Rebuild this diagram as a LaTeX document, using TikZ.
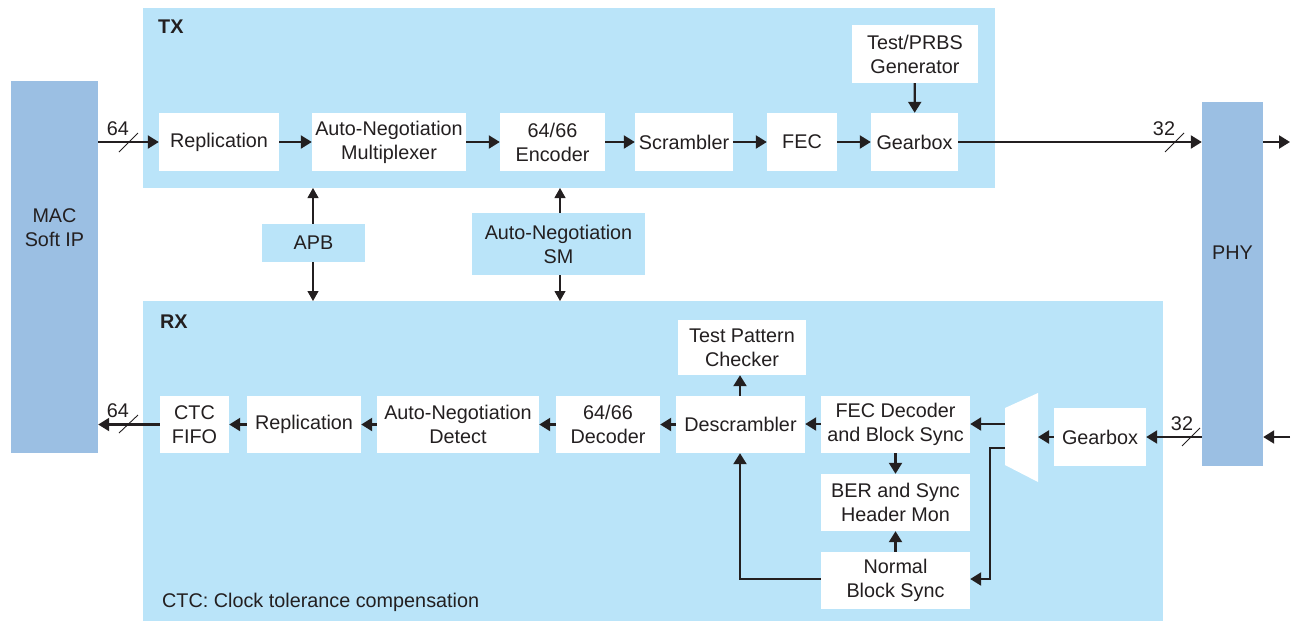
\documentclass[tikz,border=0pt]{standalone}
\usepackage{fontspec}
\setmainfont{Liberation Sans}
\usetikzlibrary{arrows.meta}
\definecolor{lb}{HTML}{BAE4F9}
\definecolor{mb}{HTML}{9BBFE3}
\definecolor{ink}{HTML}{231F20}
\begin{document}
\begin{tikzpicture}[x=1pt,y=-1pt,
  font=\fontsize{19.8}{24}\selectfont, text=ink,
  blk/.style={fill=white, align=center, inner sep=0pt},
  side/.style={fill=mb, align=center, inner sep=0pt},
  ctl/.style={fill=lb, align=center, inner sep=0pt},
  region/.style={fill=lb, draw=none},
  flow/.style={draw=ink, line width=2.2pt, -{Triangle[length=11pt,width=13pt]}},
  bus/.style={draw=ink, line width=1.1pt, -{Triangle[length=10pt,width=11pt]}},
  slash/.style={draw=ink, line width=0.9pt},
  lbl/.style={inner sep=0pt}]
\useasboundingbox (0,0) rectangle (1291,622);
% regions
\fill[region] (143,8) rectangle (995,188);
\fill[region] (143,301) rectangle (1163,621);
\node[lbl, font=\fontsize{19.8}{22}\selectfont\bfseries, anchor=west] (txl) at (158,27) {TX};
\node[lbl, font=\fontsize{19.8}{22}\selectfont\bfseries, anchor=west] (rxl) at (160,322) {RX};
% side blocks
\node[side, minimum width=87pt, minimum height=372pt] (mac) at (54.5,267) {};
\node[lbl, align=center] (mact) at (54.5,228) {MAC\\Soft IP};
\node[side, minimum width=61pt, minimum height=364pt] (phy) at (1232.5,284) {};
\node[lbl] (phyt) at (1232.5,253) {PHY};
% TX blocks
\node[blk, minimum width=120pt, minimum height=58pt] (txrep) at (219,142) {Replication};
\node[blk, minimum width=154pt, minimum height=58pt] (txanm) at (389,142) {Auto-Negotiation\\Multiplexer};
\node[blk, minimum width=105pt, minimum height=58pt] (txenc) at (552.5,142) {64/66\\Encoder};
\node[blk, minimum width=98pt, minimum height=58pt] (txscr) at (684,142) {Scrambler};
\node[blk, minimum width=70pt, minimum height=58pt] (txfec) at (802,142) {FEC};
\node[blk, minimum width=87pt, minimum height=58pt] (txgb) at (914.5,142) {Gearbox};
\node[blk, minimum width=126pt, minimum height=58pt] (prbs) at (915,54) {Test/PRBS\\Generator};
% control blocks
\node[ctl, minimum width=103pt, minimum height=38pt] (apb) at (313.5,243) {APB};
\node[ctl, minimum width=173pt, minimum height=62pt] (ansm) at (558.5,244) {Auto-Negotiation\\SM};
\coordinate (apbx) at (313,0);
\coordinate (ansx) at (560,0);
% RX blocks
\node[blk, minimum width=69pt, minimum height=57pt] (ctc) at (194.5,424.5) {CTC\\FIFO};
\node[blk, minimum width=114pt, minimum height=57pt] (rxrep) at (304,424.5) {Replication};
\node[blk, minimum width=162pt, minimum height=57pt] (andet) at (458,424.5) {Auto-Negotiation\\Detect};
\node[blk, minimum width=104pt, minimum height=57pt] (dec) at (608,424.5) {64/66\\Decoder};
\node[blk, minimum width=129pt, minimum height=57pt] (desc) at (740.5,424.5) {Descrambler};
\node[blk, minimum width=128pt, minimum height=55pt] (tpc) at (742,347.5) {Test Pattern\\Checker};
\node[blk, minimum width=149pt, minimum height=57pt] (fecd) at (895.5,424.5) {FEC Decoder\\and Block Sync};
\node[blk, minimum width=149pt, minimum height=57pt] (ber) at (895.5,502.5) {BER and Sync\\Header Mon};
\node[blk, minimum width=149pt, minimum height=57pt] (nbs) at (895.5,580.5) {Normal\\Block Sync};
\node[blk, minimum width=92pt, minimum height=58pt] (rxgb) at (1100,437) {Gearbox};
% mux
\fill[white] (1005,408) -- (1038,393) -- (1038,482) -- (1005,465) -- cycle;
\coordinate (muxR) at (1038,437);
\coordinate (muxA) at (1005,424);
\coordinate (muxB) at (1005,448);
% footnote
\node[lbl, anchor=west] (foot) at (162,602) {CTC: Clock tolerance compensation};
% TX flow
\draw[flow] (mac.east |- txrep.west) -- (txrep.west);
\draw[flow] (txrep) -- (txanm);
\draw[flow] (txanm) -- (txenc);
\draw[flow] (txenc) -- (txscr);
\draw[flow] (txscr) -- (txfec);
\draw[flow] (txfec) -- (txgb);
\draw[flow] (prbs) -- (txgb);
\draw[flow] (txgb.east) -- (phy.west |- txgb.east);
\coordinate (outR) at (1290,142);
\draw[flow] (phy.east |- outR) -- (outR);
% slashes TX
\draw[slash] (119,152) -- (138,133);
\node[lbl] (n64a) at (118,129) {64};
\draw[slash] (1165,152) -- (1184,133);
\node[lbl] (n32a) at (1164,129) {32};
% control
\draw[bus] (apb.north -| apbx) -- (apbx |- 0,188);
\draw[bus] (apb.south -| apbx) -- (apbx |- 0,301);
\draw[bus] (ansm.north -| ansx) -- (ansx |- 0,188);
\draw[bus] (ansm.south -| ansx) -- (ansx |- 0,301);
% RX flow
\coordinate (inR) at (1290,437);
\draw[flow] (inR) -- (phy.east |- inR);
\draw[flow] (phy.west |- rxgb.east) -- (rxgb.east);
\draw[flow] (rxgb.west) -- (muxR);
\draw[flow] (muxA) -- (fecd.east |- muxA);
\draw[flow] (muxB) -- (990,448) -- (990,579) -- (nbs.east |- 0,579);
\draw[flow] (fecd.west |- muxA) -- (desc.east |- muxA);
\draw[flow] (fecd) -- (ber);
\draw[flow] (nbs) -- (ber);
\draw[flow] (nbs.west |- 0,579) -- (740,579) -- (desc.south -| 740,0);
\draw[flow] (desc.north -| 740,0) -- (tpc.south -| 740,0);
\draw[flow] (desc) -- (dec);
\draw[flow] (dec) -- (andet);
\draw[flow] (andet) -- (rxrep);
\draw[flow] (rxrep) -- (ctc);
\draw[flow] (ctc.west) -- (mac.east |- ctc.west);
\draw[slash] (1182,446) -- (1200,428);
\node[lbl] (n32b) at (1182,424) {32};
\draw[slash] (119,433) -- (138,415);
\node[lbl] (n64b) at (118,411) {64};
\end{tikzpicture}
\end{document}
